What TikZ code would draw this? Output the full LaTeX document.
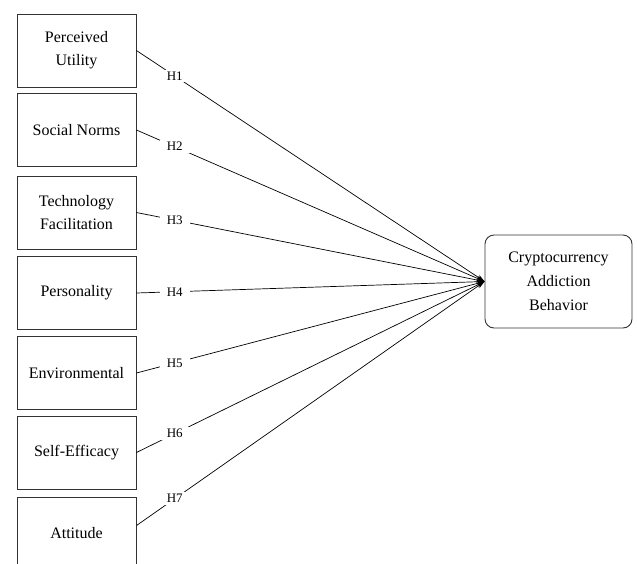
\documentclass[tikz,border=0pt]{standalone}
\usepackage{fontspec}
\setmainfont{Liberation Serif}
\usetikzlibrary{arrows.meta}
\begin{document}
\begin{tikzpicture}[x=1pt,y=-1pt,
  var/.style={draw=black!80, line width=0.9pt, minimum width=119pt, minimum height=73pt,
    align=center, inner sep=0pt, font=\fontsize{16}{23}\selectfont},
  dep/.style={draw=black!80, line width=0.9pt, rounded corners=9pt, minimum width=147pt,
    minimum height=93pt, align=center, inner sep=0pt, font=\fontsize{16}{24}\selectfont},
  lbl/.style={fill=white, inner xsep=7pt, inner ysep=2pt, font=\fontsize{13}{15}\selectfont},
  link/.style={line width=0.7pt, -{Stealth[length=8pt,width=5pt]}}]
\useasboundingbox (0,0) rectangle (637,563);
\clip (0,0) rectangle (637,563);
\node[var] (b1) at (76.5,50.5) {Perceived\\Utility};
\node[var] (b2) at (76.5,130) {Social Norms};
\node[var] (b3) at (76.5,212.5) {Technology\\Facilitation};
\node[var] (b4) at (76.5,293) {Personality};
\node[var] (b5) at (76.5,373) {Environmental};
\node[var] (b6) at (76.5,452.5) {Self-Efficacy};
\node[var, minimum height=78pt] (b7) at (76.5,536) {};
\node (t7) at (76.5,533) [font=\fontsize{16}{23}\selectfont] {Attitude};
\coordinate (s7) at ([yshift=-29pt]b7.north east);
\node[dep] (cad) at (558.5,281.5) {Cryptocurrency\\Addiction\\Behavior};
\draw[link] (b1.east) -- node[lbl, pos=0.11] (h1) {H1} (cad.west);
\draw[link] (b2.east) -- node[lbl, pos=0.11] (h2) {H2} (cad.west);
\draw[link] (b3.east) -- node[lbl, pos=0.11] (h3) {H3} (cad.west);
\draw[link] (b4.east) -- node[lbl, pos=0.11] (h4) {H4} (cad.west);
\draw[link] (b5.east) -- node[lbl, pos=0.11] (h5) {H5} (cad.west);
\draw[link] (b6.east) -- node[lbl, pos=0.11] (h6) {H6} (cad.west);
\draw[link] (s7) -- node[lbl, pos=0.11] (h7) {H7} (cad.west);
\end{tikzpicture}
\end{document}
